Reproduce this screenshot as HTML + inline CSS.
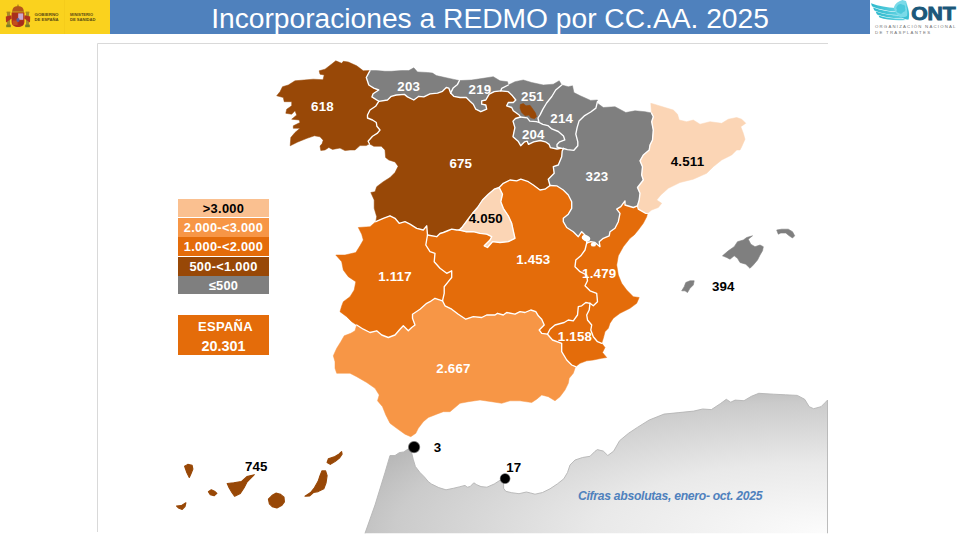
<!DOCTYPE html>
<html><head><meta charset="utf-8">
<style>
html,body{margin:0;padding:0;background:#fff;}
body{width:960px;height:540px;overflow:hidden;position:relative;font-family:"Liberation Sans",sans-serif;}
#gov{position:absolute;left:0;top:0;width:110px;height:34px;background:#FAD21E;}
#bar{position:absolute;left:110px;top:0;width:760px;height:34px;background:#4F81BD;}
#title{position:absolute;left:110px;top:0;width:760px;height:34px;line-height:37.4px;text-align:center;color:#fff;font-size:28.2px;white-space:nowrap;}
#title span{display:inline-block;transform-origin:50% 50%;}
svg{position:absolute;left:0;top:0;}
.leg{position:absolute;left:178px;width:91px;text-align:center;font-weight:bold;font-size:12.8px;color:#fff;white-space:nowrap;letter-spacing:0.3px;}
#note{position:absolute;left:578px;top:489px;font-size:12.2px;letter-spacing:-0.3px;font-style:italic;color:#4F81BD;white-space:nowrap;font-weight:bold;}
</style></head><body>
<div id="gov"></div>
<div id="bar"></div>
<div id="title"><span id="tt">Incorporaciones a REDMO por CC.AA. 2025</span></div>

<div class="leg" style="top:198.5px;height:18.5px;line-height:19px;background:#FAC090;color:#000;">&gt;3.000</div>
<div class="leg" style="top:218px;height:18.6px;line-height:19px;background:#F79646;">2.000-&lt;3.000</div>
<div class="leg" style="top:237.4px;height:18.8px;line-height:19px;background:#E46C0A;">1.000-&lt;2.000</div>
<div class="leg" style="top:256.8px;height:18.8px;line-height:19px;background:#984807;">500-&lt;1.000</div>
<div class="leg" style="top:276.1px;height:18.4px;line-height:19px;background:#7F7F7F;">&le;500</div>
<div class="leg" style="top:315px;height:39.5px;background:#E46C0A;line-height:19.6px;"><div style="padding-top:1.6px;font-size:13px;letter-spacing:0.3px"><span style="position:relative;left:2px">ESPAÑA</span><br><span style="font-size:14.4px;letter-spacing:0;position:relative;top:1px">20.301</span></div></div>

<svg width="960" height="540" viewBox="0 0 960 540">
<defs>
<radialGradient id="afg" cx="1" cy="1" r="1.2" fx="1" fy="1">
<stop offset="0" stop-color="#FCFCFC"/><stop offset="0.42" stop-color="#E9E9E9"/><stop offset="0.78" stop-color="#CBCBCB"/><stop offset="0.92" stop-color="#B6B6B6"/><stop offset="1" stop-color="#ADADAD"/>
</radialGradient>
<radialGradient id="dot"><stop offset="0.72" stop-color="#000"/><stop offset="0.82" stop-color="#222" stop-opacity="0.75"/><stop offset="1" stop-color="#555" stop-opacity="0"/></radialGradient>
</defs>
<!-- frame -->
<path d="M97.5,532 V43.5 H828" fill="none" stroke="#D9D9D9" stroke-width="1"/>
<!-- africa -->
<polygon points="365.0,533.3 375.0,505.0 385.0,472.5 390.0,455.5 395.0,455.5 399.4,452.6 403.8,451.9 408.1,449.0 411.0,449.5 411.8,453.3 413.2,459.2 415.4,466.5 419.8,472.3 424.2,476.7 428.5,481.8 431.5,484.0 438.8,487.6 446.0,489.8 453.3,488.3 459.2,486.9 465.0,485.4 467.2,487.2 470.1,486.6 473.8,482.8 476.7,484.7 481.0,486.6 486.9,487.2 494.2,484.0 500.0,480.3 503.6,481.5 503.6,488.3 505.8,491.3 511.7,492.7 519.0,493.7 526.3,492.0 530.6,493.0 535.0,494.2 542.5,492.5 550.0,488.8 557.5,483.8 563.8,478.8 567.5,472.5 570.0,465.0 575.0,460.0 582.5,457.5 590.0,456.3 595.0,451.3 597.4,449.6 603.3,451.1 607.8,455.5 613.7,451.1 619.6,440.7 628.5,433.3 637.4,427.4 649.2,420.0 664.0,414.1 678.9,412.6 693.7,411.1 702.6,409.0 711.4,409.6 720.3,403.7 726.3,399.3 730.7,402.2 735.1,400.1 744.0,400.7 751.4,396.3 758.8,393.3 773.6,394.2 785.5,394.8 797.3,395.4 804.7,399.3 809.2,406.7 813.6,408.7 821.0,406.7 825.5,402.2 827.5,400.1 827.5,533.3" fill="url(#afg)"/>
<polyline points="365.0,533.3 375.0,505.0 385.0,472.5 390.0,455.5 395.0,455.5 399.4,452.6 403.8,451.9 408.1,449.0 411.0,449.5 411.8,453.3 413.2,459.2 415.4,466.5 419.8,472.3 424.2,476.7 428.5,481.8 431.5,484.0 438.8,487.6 446.0,489.8 453.3,488.3 459.2,486.9 465.0,485.4 467.2,487.2 470.1,486.6 473.8,482.8 476.7,484.7 481.0,486.6 486.9,487.2 494.2,484.0 500.0,480.3 503.6,481.5 503.6,488.3 505.8,491.3 511.7,492.7 519.0,493.7 526.3,492.0 530.6,493.0 535.0,494.2 542.5,492.5 550.0,488.8 557.5,483.8 563.8,478.8 567.5,472.5 570.0,465.0 575.0,460.0 582.5,457.5 590.0,456.3 595.0,451.3 597.4,449.6 603.3,451.1 607.8,455.5 613.7,451.1 619.6,440.7 628.5,433.3 637.4,427.4 649.2,420.0 664.0,414.1 678.9,412.6 693.7,411.1 702.6,409.0 711.4,409.6 720.3,403.7 726.3,399.3 730.7,402.2 735.1,400.1 744.0,400.7 751.4,396.3 758.8,393.3 773.6,394.2 785.5,394.8 797.3,395.4 804.7,399.3 809.2,406.7 813.6,408.7 821.0,406.7 825.5,402.2 827.5,400.1 827.5,533.3" fill="none" stroke="#B4B4B4" stroke-width="0.9" stroke-linejoin="round"/>
<polygon points="378.8,101.3 387.5,100.0 391.3,96.3 396.3,95.0 404.4,94.4 407.5,96.9 413.8,100.0 418.8,96.3 423.8,96.9 430.0,93.8 437.5,93.1 442.5,91.3 446.3,87.5 448.8,88.1 450.6,93.1 453.8,96.3 460.0,97.5 466.3,97.5 470.0,101.3 473.3,104.2 475.8,109.2 480.8,111.7 486.7,109.2 485.8,105.0 481.7,104.2 481.7,100.8 485.8,100.0 489.2,94.2 494.2,91.7 500.8,90.8 508.3,91.7 512.5,95.8 515.8,100.0 513.3,102.5 508.3,102.5 506.7,105.8 511.7,107.5 513.3,110.8 519.2,115.0 520.5,117.0 515.5,118.5 513.0,121.1 514.9,127.6 513.0,136.7 518.1,141.2 520.7,145.7 524.6,141.8 527.2,141.2 528.5,144.4 533.7,141.8 540.2,140.5 545.4,141.8 549.2,144.4 550.5,147.7 557.0,149.0 560.9,148.3 563.5,148.5 562.2,151.0 561.7,156.7 558.3,165.0 553.3,166.7 554.2,173.3 548.3,179.2 550.0,185.5 545.0,189.2 540.0,190.0 533.3,185.0 528.3,181.7 520.8,179.2 516.7,180.8 510.0,180.0 503.3,183.3 499.2,187.5 494.2,189.2 488.3,194.2 482.5,200.0 477.5,207.5 472.5,213.3 467.5,220.0 462.5,226.7 459.2,230.0 456.7,230.0 451.7,229.2 448.3,230.5 443.3,232.5 440.0,233.5 436.7,236.7 427.5,235.0 426.7,225.8 423.3,230.0 416.7,228.3 410.0,224.2 405.0,221.7 399.2,223.3 395.0,218.3 390.0,215.8 383.3,218.3 375.8,221.7 376.7,216.7 374.2,208.3 374.2,200.0 370.8,192.5 375.0,191.7 376.7,186.7 383.3,181.7 390.0,177.5 395.0,172.5 398.1,166.3 395.0,161.9 388.8,160.0 385.6,157.5 385.0,150.0 381.3,146.3 373.8,146.3 369.4,143.8 368.1,141.3 372.5,136.3 377.5,133.1 380.0,130.0 376.9,126.3 376.3,122.5 372.5,120.0 367.5,118.0 367.5,115.0 370.0,110.0 375.6,106.3" fill="#984807" stroke="#984807" stroke-width="0.5" stroke-linejoin="round"/>
<polygon points="550.0,185.5 556.7,185.8 563.3,190.0 568.3,195.0 571.7,201.7 571.7,208.3 568.3,214.2 563.3,218.3 563.3,221.7 566.7,227.5 573.3,231.7 578.3,236.7 581.7,231.7 586.7,236.7 586.7,243.0 585.0,250.0 580.8,255.8 575.8,260.0 575.0,266.7 580.0,271.7 586.7,275.0 587.5,280.8 585.0,285.8 590.0,290.8 596.7,293.3 597.5,301.7 593.3,305.8 590.0,303.3 585.8,302.5 581.7,305.8 578.3,306.7 577.5,315.0 573.3,320.8 568.3,320.0 564.2,322.5 555.0,325.0 550.0,329.2 547.5,334.2 541.7,333.3 539.2,330.0 544.2,325.0 541.7,319.2 538.3,315.8 535.8,311.7 530.8,310.0 525.0,312.5 520.0,311.7 515.0,314.2 506.7,312.5 503.3,315.0 497.5,313.3 495.0,315.0 486.7,315.0 481.7,317.5 473.3,316.7 465.8,319.2 458.3,314.2 451.7,309.2 445.0,305.8 442.5,300.8 444.2,293.3 444.2,286.7 448.3,281.7 451.7,277.5 451.7,270.8 446.7,273.3 440.0,268.3 434.2,261.7 435.0,253.3 430.0,251.7 425.8,245.0 427.5,235.0 436.7,236.7 440.0,233.5 443.3,232.5 448.3,230.5 451.7,229.2 456.7,230.0 459.2,230.0 465.8,231.7 473.3,231.7 480.0,233.3 486.7,234.2 491.7,236.7 490.0,240.0 484.2,245.8 487.5,247.5 492.5,241.7 500.0,242.5 508.3,241.7 515.0,238.3 513.3,230.8 511.7,223.3 508.3,215.8 503.3,208.3 500.8,201.7 502.5,194.2 499.2,187.5 503.3,183.3 510.0,180.0 516.7,180.8 520.8,179.2 528.3,181.7 533.3,185.0 540.0,190.0 545.0,189.2" fill="#E46C0A" stroke="#E46C0A" stroke-width="0.5" stroke-linejoin="round"/>
<polygon points="356.7,325.0 363.3,329.2 370.0,332.5 376.7,330.8 381.7,335.0 388.3,337.5 395.0,335.0 400.0,329.2 403.3,325.8 408.3,330.8 411.7,327.5 415.0,325.0 412.5,318.3 412.5,314.2 420.0,309.2 426.7,303.3 430.0,301.7 435.0,298.3 442.5,300.8 445.0,305.8 451.7,309.2 458.3,314.2 465.8,319.2 473.3,316.7 481.7,317.5 486.7,315.0 495.0,315.0 497.5,313.3 503.3,315.0 506.7,312.5 515.0,314.2 520.0,311.7 525.0,312.5 530.8,310.0 535.8,311.7 538.3,315.8 541.7,319.2 544.2,325.0 539.2,330.0 541.7,333.3 547.5,334.2 552.5,340.0 561.7,343.3 561.7,351.7 566.7,360.0 571.7,365.0 575.5,366.7 573.3,373.3 569.2,378.3 568.3,383.3 565.0,390.0 560.0,396.7 555.0,400.8 548.3,396.7 541.7,395.0 536.7,399.2 531.7,402.5 520.0,400.8 510.0,400.8 501.7,403.3 491.7,401.7 480.0,400.0 468.3,401.7 460.0,403.3 455.0,407.5 450.0,411.7 443.3,411.7 436.7,414.2 428.3,417.5 423.3,421.7 418.3,428.3 415.8,433.3 410.8,436.7 405.0,434.2 396.7,428.3 390.0,423.3 385.8,415.0 382.5,406.7 377.5,400.8 379.2,395.0 375.0,388.3 366.7,382.5 356.7,376.7 350.0,373.3 336.7,373.3 335.0,368.3 335.0,361.7 333.3,355.8 336.7,348.3 340.8,341.7 344.2,335.8 350.8,333.3 355.0,330.8" fill="#F79646" stroke="#F79646" stroke-width="0.5" stroke-linejoin="round"/>
<polygon points="375.8,221.7 383.3,218.3 390.0,215.8 395.0,218.3 399.2,223.3 405.0,221.7 410.0,224.2 416.7,228.3 423.3,230.0 426.7,225.8 427.5,235.0 425.8,245.0 430.0,251.7 435.0,253.3 434.2,261.7 440.0,268.3 446.7,273.3 451.7,270.8 451.7,277.5 448.3,281.7 444.2,286.7 444.2,293.3 442.5,300.8 435.0,298.3 430.0,301.7 426.7,303.3 420.0,309.2 412.5,314.2 412.5,318.3 415.0,325.0 411.7,327.5 408.3,330.8 403.3,325.8 400.0,329.2 395.0,335.0 388.3,337.5 381.7,335.0 376.7,330.8 370.0,332.5 363.3,329.2 356.7,325.0 351.7,321.7 346.7,316.7 340.0,311.7 341.7,306.0 343.3,301.7 350.0,296.7 354.2,290.0 355.8,281.7 348.3,276.7 343.3,270.0 341.7,261.7 335.8,255.0 345.0,255.0 355.8,252.5 360.0,245.8 363.3,240.0 361.7,234.2 358.3,227.5 370.0,226.7" fill="#E46C0A" stroke="#E46C0A" stroke-width="0.5" stroke-linejoin="round"/>
<polygon points="370.0,70.6 363.3,70.8 356.7,65.8 348.3,62.0 343.3,61.3 341.7,63.3 335.8,60.8 333.0,63.0 325.0,69.2 319.2,70.8 320.0,74.2 324.2,75.0 323.0,79.7 313.3,79.2 295.0,80.8 288.3,85.0 282.5,86.7 280.0,91.7 276.7,95.8 283.3,97.5 284.2,101.7 291.7,101.7 291.7,105.8 286.7,109.2 285.8,113.3 291.7,114.2 295.0,110.8 296.7,115.0 291.7,119.2 299.2,120.0 300.0,122.5 293.3,125.8 293.3,128.3 300.0,128.3 295.0,132.5 290.8,137.5 290.2,145.8 297.8,142.0 307.0,138.3 314.4,135.8 320.0,136.8 323.2,140.2 322.0,143.8 320.0,146.0 320.8,150.5 325.0,150.0 328.8,147.5 332.5,149.4 340.0,148.1 345.0,150.6 350.0,150.0 355.0,150.0 360.0,145.6 366.3,145.6 369.4,143.8 368.1,141.3 372.5,136.3 377.5,133.1 380.0,130.0 376.9,126.3 376.3,122.5 372.5,120.0 367.5,118.0 367.5,115.0 370.0,110.0 375.6,106.3 378.8,101.3 371.9,96.9 373.1,93.8 378.8,90.0 373.8,88.1 368.8,85.0 366.3,77.5" fill="#984807" stroke="#984807" stroke-width="0.5" stroke-linejoin="round"/>
<polygon points="370.0,70.6 376.3,70.6 385.0,71.3 391.3,71.3 401.3,70.6 408.8,70.6 413.8,67.8 417.5,71.9 427.5,72.5 432.5,73.1 436.3,75.6 445.0,77.5 453.8,79.4 459.4,80.6 457.5,84.4 453.1,88.1 450.6,93.1 448.8,88.1 446.3,87.5 442.5,91.3 437.5,93.1 430.0,93.8 423.8,96.9 418.8,96.3 413.8,100.0 407.5,96.9 404.4,94.4 396.3,95.0 391.3,96.3 387.5,100.0 378.8,101.3 371.9,96.9 373.1,93.8 378.8,90.0 373.8,88.1 368.8,85.0 366.3,77.5" fill="#7F7F7F" stroke="#7F7F7F" stroke-width="0.5" stroke-linejoin="round"/>
<polygon points="459.4,80.6 471.7,80.0 483.3,78.3 493.3,76.7 500.0,80.8 507.5,81.7 508.3,85.0 501.7,88.3 500.8,90.8 494.2,91.7 489.2,94.2 485.8,100.0 481.7,100.8 481.7,104.2 485.8,105.0 486.7,109.2 480.8,111.7 475.8,109.2 473.3,104.2 470.0,101.3 466.3,97.5 460.0,97.5 453.8,96.3 450.6,93.1 453.1,88.1 457.5,84.4" fill="#7F7F7F" stroke="#7F7F7F" stroke-width="0.5" stroke-linejoin="round"/>
<polygon points="508.3,85.0 515.0,81.7 523.3,80.0 531.7,82.5 543.3,85.0 553.3,84.2 559.2,80.8 561.7,85.0 555.7,90.0 551.8,96.5 546.6,103.0 542.8,109.4 540.2,114.6 538.0,118.0 538.9,122.4 536.3,121.7 529.8,121.1 527.2,117.9 520.5,117.0 519.2,115.0 513.3,110.8 511.7,107.5 506.7,105.8 508.3,102.5 513.3,102.5 515.8,100.0 512.5,95.8 508.3,91.7 500.8,90.8 501.7,88.3" fill="#7F7F7F" stroke="#7F7F7F" stroke-width="0.5" stroke-linejoin="round"/>
<polygon points="561.7,85.0 568.3,86.7 572.5,85.8 573.9,92.6 580.3,95.8 590.7,100.4 597.5,100.0 597.5,101.5 595.9,108.1 590.7,112.0 584.2,115.9 579.0,121.1 577.1,127.6 575.8,134.1 577.8,141.8 577.8,145.7 573.9,150.3 567.4,149.6 563.5,148.5 560.9,148.3 557.0,147.0 557.0,144.4 559.6,141.8 564.8,139.9 563.5,136.0 558.3,131.5 551.8,128.9 547.9,125.6 542.8,124.3 538.9,122.4 538.0,118.0 540.2,114.6 542.8,109.4 546.6,103.0 551.8,96.5 555.7,90.0" fill="#7F7F7F" stroke="#7F7F7F" stroke-width="0.5" stroke-linejoin="round"/>
<polygon points="520.5,117.0 515.5,118.5 513.0,121.1 514.9,127.6 513.0,136.7 518.1,141.2 520.7,145.7 524.6,141.8 527.2,141.2 528.5,144.4 533.7,141.8 540.2,140.5 545.4,141.8 549.2,144.4 550.5,147.7 557.0,149.0 560.9,148.3 557.0,147.0 557.0,144.4 559.6,141.8 564.8,139.9 563.5,136.0 558.3,131.5 551.8,128.9 547.9,125.6 542.8,124.3 538.9,122.4 536.3,121.7 529.8,121.1 527.2,117.9" fill="#7F7F7F" stroke="#7F7F7F" stroke-width="0.5" stroke-linejoin="round"/>
<polygon points="597.5,101.5 597.5,103.3 603.3,107.5 615.0,106.7 625.8,112.5 635.0,110.8 645.0,111.7 651.5,113.0 653.3,116.7 651.7,121.7 653.3,130.0 652.5,140.0 650.0,145.0 649.2,150.0 643.3,155.0 640.0,160.8 642.5,166.7 641.7,175.0 643.3,180.0 637.5,187.5 640.0,193.3 639.2,200.0 637.5,205.8 633.3,207.5 625.0,205.0 625.0,200.8 620.8,206.7 616.7,209.2 620.0,213.3 618.3,221.7 615.0,228.3 610.0,231.7 609.2,235.8 603.3,238.3 599.2,241.7 600.0,246.7 595.0,242.5 590.8,241.7 586.7,243.0 586.7,236.7 581.7,231.7 578.3,236.7 573.3,231.7 566.7,227.5 563.3,221.7 563.3,218.3 568.3,214.2 571.7,208.3 571.7,201.7 568.3,195.0 563.3,190.0 556.7,185.8 550.0,185.5 548.3,179.2 554.2,173.3 553.3,166.7 558.3,165.0 561.7,156.7 562.2,151.0 563.5,148.5 567.4,149.6 573.9,150.3 577.8,145.7 577.8,141.8 575.8,134.1 577.1,127.6 579.0,121.1 584.2,115.9 590.7,112.0 595.9,108.1" fill="#7F7F7F" stroke="#7F7F7F" stroke-width="0.5" stroke-linejoin="round"/>
<polygon points="651.5,113.0 650.8,103.3 654.2,104.2 665.0,107.5 673.3,110.0 677.5,114.2 679.2,120.0 686.7,121.7 693.3,120.0 700.0,124.2 710.0,121.7 721.7,123.3 728.3,119.2 736.7,117.5 741.7,119.2 745.8,123.3 740.8,126.7 743.3,133.3 745.0,139.2 741.7,146.7 740.0,150.0 736.7,150.0 731.7,155.0 721.7,160.0 713.3,166.7 706.7,173.3 693.3,179.2 680.0,182.5 668.3,188.3 660.8,195.0 656.7,200.0 661.7,203.3 658.3,207.5 651.7,210.0 647.5,213.3 645.8,213.3 638.3,209.2 637.5,205.8 639.2,200.0 640.0,193.3 637.5,187.5 643.3,180.0 641.7,175.0 642.5,166.7 640.0,160.8 643.3,155.0 649.2,150.0 650.0,145.0 652.5,140.0 653.3,130.0 651.7,121.7 653.3,116.7" fill="#FBD5B5" stroke="#FBD5B5" stroke-width="0.5" stroke-linejoin="round"/>
<polygon points="637.5,205.8 638.3,209.2 645.8,213.3 647.5,213.3 646.7,216.7 643.3,223.3 638.3,230.0 634.2,235.0 630.0,238.3 623.3,246.7 618.3,255.8 616.7,265.0 618.3,275.0 621.7,283.3 626.7,290.0 633.3,296.7 639.2,297.5 636.7,303.3 630.0,308.3 620.0,313.3 613.3,318.3 610.0,323.3 608.3,328.3 605.0,331.7 603.3,338.3 601.7,343.3 597.5,341.7 593.3,336.7 590.8,330.0 591.7,325.0 587.5,320.0 586.7,315.0 589.2,310.0 590.0,303.3 593.3,305.8 597.5,301.7 596.7,293.3 590.0,290.8 585.0,285.8 587.5,280.8 586.7,275.0 580.0,271.7 575.0,266.7 575.8,260.0 580.8,255.8 585.0,250.0 586.7,243.0 590.8,241.7 595.0,242.5 600.0,246.7 599.2,241.7 603.3,238.3 609.2,235.8 610.0,231.7 615.0,228.3 618.3,221.7 620.0,213.3 616.7,209.2 620.8,206.7 625.0,200.8 625.0,205.0 633.3,207.5" fill="#E46C0A" stroke="#E46C0A" stroke-width="0.5" stroke-linejoin="round"/>
<polygon points="590.0,303.3 589.2,310.0 586.7,315.0 587.5,320.0 591.7,325.0 590.8,330.0 593.3,336.7 597.5,341.7 601.7,343.3 605.0,347.5 602.5,352.5 606.7,357.5 601.7,358.3 593.3,360.0 586.7,360.8 580.0,363.3 575.5,366.7 571.7,365.0 566.7,360.0 561.7,351.7 561.7,343.3 552.5,340.0 547.5,334.2 550.0,329.2 555.0,325.0 564.2,322.5 568.3,320.0 573.3,320.8 577.5,315.0 578.3,306.7 581.7,305.8 585.8,302.5" fill="#E46C0A" stroke="#E46C0A" stroke-width="0.5" stroke-linejoin="round"/>
<polygon points="499.2,187.5 502.5,194.2 500.8,201.7 503.3,208.3 508.3,215.8 511.7,223.3 513.3,230.8 515.0,238.3 508.3,241.7 500.0,242.5 492.5,241.7 487.5,247.5 484.2,245.8 490.0,240.0 491.7,236.7 486.7,234.2 480.0,233.3 473.3,231.7 465.8,231.7 459.2,230.0 462.5,226.7 467.5,220.0 472.5,213.3 477.5,207.5 482.5,200.0 488.3,194.2 494.2,189.2" fill="#FBD5B5" stroke="#FBD5B5" stroke-width="0.5" stroke-linejoin="round"/>
<g fill="none" stroke="#fff" stroke-width="1.35" stroke-linejoin="round" stroke-linecap="round"><polyline points="369.4,143.8 368.1,141.3 372.5,136.3 377.5,133.1 380.0,130.0 376.9,126.3 376.3,122.5 372.5,120.0 367.5,118.0 367.5,115.0 370.0,110.0 375.6,106.3 378.8,101.3"/><polyline points="378.8,101.3 371.9,96.9 373.1,93.8 378.8,90.0 373.8,88.1 368.8,85.0 366.3,77.5 370.0,70.6"/><polyline points="459.4,80.6 457.5,84.4 453.1,88.1 450.6,93.1"/><polyline points="450.6,93.1 448.8,88.1 446.3,87.5 442.5,91.3 437.5,93.1 430.0,93.8 423.8,96.9 418.8,96.3 413.8,100.0 407.5,96.9 404.4,94.4 396.3,95.0 391.3,96.3 387.5,100.0 378.8,101.3"/><polyline points="508.3,85.0 501.7,88.3 500.8,90.8"/><polyline points="500.8,90.8 494.2,91.7 489.2,94.2 485.8,100.0 481.7,100.8 481.7,104.2 485.8,105.0 486.7,109.2 480.8,111.7 475.8,109.2 473.3,104.2 470.0,101.3 466.3,97.5 460.0,97.5 453.8,96.3 450.6,93.1"/><polyline points="561.7,85.0 555.7,90.0 551.8,96.5 546.6,103.0 542.8,109.4 540.2,114.6 538.0,118.0 538.9,122.4"/><polyline points="538.9,122.4 536.3,121.7 529.8,121.1 527.2,117.9 520.5,117.0"/><polyline points="520.5,117.0 519.2,115.0 513.3,110.8 511.7,107.5 506.7,105.8 508.3,102.5 513.3,102.5 515.8,100.0 512.5,95.8 508.3,91.7 500.8,90.8"/><polyline points="520.5,117.0 515.5,118.5 513.0,121.1 514.9,127.6 513.0,136.7 518.1,141.2 520.7,145.7 524.6,141.8 527.2,141.2 528.5,144.4 533.7,141.8 540.2,140.5 545.4,141.8 549.2,144.4 550.5,147.7 557.0,149.0 560.9,148.3"/><polyline points="538.9,122.4 542.8,124.3 547.9,125.6 551.8,128.9 558.3,131.5 563.5,136.0 564.8,139.9 559.6,141.8 557.0,144.4 557.0,147.0 560.9,148.3"/><polyline points="597.5,101.5 595.9,108.1 590.7,112.0 584.2,115.9 579.0,121.1 577.1,127.6 575.8,134.1 577.8,141.8 577.8,145.7 573.9,150.3 567.4,149.6 563.5,148.5"/><polyline points="651.5,113.0 653.3,116.7 651.7,121.7 653.3,130.0 652.5,140.0 650.0,145.0 649.2,150.0 643.3,155.0 640.0,160.8 642.5,166.7 641.7,175.0 643.3,180.0 637.5,187.5 640.0,193.3 639.2,200.0 637.5,205.8"/><polyline points="637.5,205.8 633.3,207.5 625.0,205.0 625.0,200.8 620.8,206.7 616.7,209.2 620.0,213.3 618.3,221.7 615.0,228.3 610.0,231.7 609.2,235.8 603.3,238.3 599.2,241.7 600.0,246.7 595.0,242.5 590.8,241.7 586.7,243.0"/><polyline points="586.7,243.0 586.7,236.7 581.7,231.7 578.3,236.7 573.3,231.7 566.7,227.5 563.3,221.7 563.3,218.3 568.3,214.2 571.7,208.3 571.7,201.7 568.3,195.0 563.3,190.0 556.7,185.8 550.0,185.5"/><polyline points="563.5,148.5 562.2,151.0 561.7,156.7 558.3,165.0 553.3,166.7 554.2,173.3 548.3,179.2 550.0,185.5"/><polyline points="647.5,213.3 645.8,213.3 638.3,209.2 637.5,205.8"/><polyline points="601.7,343.3 597.5,341.7 593.3,336.7 590.8,330.0 591.7,325.0 587.5,320.0 586.7,315.0 589.2,310.0 590.0,303.3"/><polyline points="590.0,303.3 593.3,305.8 597.5,301.7 596.7,293.3 590.0,290.8 585.0,285.8 587.5,280.8 586.7,275.0 580.0,271.7 575.0,266.7 575.8,260.0 580.8,255.8 585.0,250.0 586.7,243.0"/><polyline points="575.5,366.7 571.7,365.0 566.7,360.0 561.7,351.7 561.7,343.3 552.5,340.0 547.5,334.2"/><polyline points="547.5,334.2 550.0,329.2 555.0,325.0 564.2,322.5 568.3,320.0 573.3,320.8 577.5,315.0 578.3,306.7 581.7,305.8 585.8,302.5 590.0,303.3"/><polyline points="356.7,325.0 363.3,329.2 370.0,332.5 376.7,330.8 381.7,335.0 388.3,337.5 395.0,335.0 400.0,329.2 403.3,325.8 408.3,330.8 411.7,327.5 415.0,325.0 412.5,318.3 412.5,314.2 420.0,309.2 426.7,303.3 430.0,301.7 435.0,298.3 442.5,300.8"/><polyline points="442.5,300.8 445.0,305.8 451.7,309.2 458.3,314.2 465.8,319.2 473.3,316.7 481.7,317.5 486.7,315.0 495.0,315.0 497.5,313.3 503.3,315.0 506.7,312.5 515.0,314.2 520.0,311.7 525.0,312.5 530.8,310.0 535.8,311.7 538.3,315.8 541.7,319.2 544.2,325.0 539.2,330.0 541.7,333.3 547.5,334.2"/><polyline points="375.8,221.7 383.3,218.3 390.0,215.8 395.0,218.3 399.2,223.3 405.0,221.7 410.0,224.2 416.7,228.3 423.3,230.0 426.7,225.8 427.5,235.0"/><polyline points="427.5,235.0 425.8,245.0 430.0,251.7 435.0,253.3 434.2,261.7 440.0,268.3 446.7,273.3 451.7,270.8 451.7,277.5 448.3,281.7 444.2,286.7 444.2,293.3 442.5,300.8"/><polyline points="550.0,185.5 545.0,189.2 540.0,190.0 533.3,185.0 528.3,181.7 520.8,179.2 516.7,180.8 510.0,180.0 503.3,183.3 499.2,187.5"/><polyline points="499.2,187.5 494.2,189.2 488.3,194.2 482.5,200.0 477.5,207.5 472.5,213.3 467.5,220.0 462.5,226.7 459.2,230.0"/><polyline points="459.2,230.0 456.7,230.0 451.7,229.2 448.3,230.5 443.3,232.5 440.0,233.5 436.7,236.7 427.5,235.0"/><polyline points="499.2,187.5 502.5,194.2 500.8,201.7 503.3,208.3 508.3,215.8 511.7,223.3 513.3,230.8 515.0,238.3 508.3,241.7 500.0,242.5 492.5,241.7 487.5,247.5 484.2,245.8 490.0,240.0 491.7,236.7 486.7,234.2 480.0,233.3 473.3,231.7 465.8,231.7 459.2,230.0"/><polyline points="560.9,148.3 563.5,148.5"/></g>
<ellipse cx="586" cy="238.2" rx="4.4" ry="3" fill="#fff" transform="rotate(25 586 238.2)"/>
<ellipse cx="593.4" cy="244.4" rx="2.6" ry="2.2" fill="#fff"/>
<polygon points="520.3,104.6 523.3,103.6 526.0,105.8 530.0,105.3 532.9,109.2 535.5,113.1 536.5,116.8 534.4,118.7 530.8,117.7 528.9,115.1 525.1,115.8 521.6,112.3 520.0,108.1" fill="#984807" stroke="#984807" stroke-width="0.6" stroke-linejoin="round"/>
<polygon points="722.5,255.8 728.3,250.8 734.2,246.7 737.5,241.7 743.3,240.0 746.7,237.5 752.5,235.8 748.3,239.2 750.8,244.2 755.0,246.7 760.0,245.0 763.3,246.7 762.5,250.8 760.0,255.0 757.5,260.0 753.3,265.0 750.0,268.3 745.8,264.2 740.0,262.5 737.5,258.3 734.2,255.8 730.0,259.2 726.7,257.5" fill="#7F7F7F" stroke="#7F7F7F" stroke-width="0.6" stroke-linejoin="round"/>
<polygon points="776.7,230.0 781.7,229.2 788.3,229.2 792.5,231.7 794.7,235.8 792.5,238.0 789.2,235.8 785.8,233.0 780.8,233.0 778.3,234.2" fill="#7F7F7F" stroke="#7F7F7F" stroke-width="0.6" stroke-linejoin="round"/>
<polygon points="681.7,290.8 684.2,286.7 685.8,282.5 690.0,280.8 694.2,280.8 693.3,285.0 690.0,288.3 687.5,292.5 685.0,290.8" fill="#7F7F7F" stroke="#7F7F7F" stroke-width="0.6" stroke-linejoin="round"/>
<polygon points="184.6,466.3 187.8,464.4 192.1,465.3 192.9,469.1 191.0,473.8 189.3,477.5 186.9,472.8" fill="#984807" stroke="#984807" stroke-width="1.1" stroke-linejoin="round"/>
<polygon points="208.4,491.6 211.3,489.7 215.0,491.6 216.9,493.4 214.1,495.7 210.3,494.8" fill="#984807" stroke="#984807" stroke-width="1.1" stroke-linejoin="round"/>
<polygon points="176.6,506.0 181.3,505.6 185.9,502.8 185.0,506.6 182.2,509.4 178.4,507.9" fill="#984807" stroke="#984807" stroke-width="1.1" stroke-linejoin="round"/>
<polygon points="227.2,483.5 233.8,482.8 241.3,481.6 246.9,476.6 254.4,474.7 250.6,478.4 246.9,482.2 244.1,487.8 240.3,493.4 234.7,496.3 231.9,492.5 229.1,487.8" fill="#984807" stroke="#984807" stroke-width="1.1" stroke-linejoin="round"/>
<polygon points="268.4,499.1 272.2,495.3 275.9,493.1 280.6,494.4 284.0,497.2 284.4,501.9 281.6,505.6 276.9,507.9 272.2,506.6 269.4,503.8" fill="#984807" stroke="#984807" stroke-width="1.1" stroke-linejoin="round"/>
<polygon points="321.9,470.9 325.6,470.9 327.1,475.6 326.0,483.1 323.8,488.8 318.1,491.6 313.4,492.5 309.7,495.9 305.0,496.3 310.6,492.5 314.4,487.8 318.1,481.3 320.0,475.6" fill="#984807" stroke="#984807" stroke-width="1.1" stroke-linejoin="round"/>
<polygon points="327.1,462.5 328.4,458.8 335.0,456.5 338.8,454.1 341.6,451.6 342.1,454.1 339.7,457.8 335.0,461.6 330.3,464.4" fill="#984807" stroke="#984807" stroke-width="1.1" stroke-linejoin="round"/>
<circle cx="414.1" cy="447.1" r="6.6" fill="url(#dot)"/>
<circle cx="505.1" cy="478.6" r="5.8" fill="url(#dot)"/>
<g font-family="Liberation Sans, sans-serif" font-weight="bold" font-size="13.3" text-anchor="middle" letter-spacing="0.2">
<text x="322.5" y="111.4" fill="#fff">618</text>
<text x="408.7" y="90.5" fill="#fff">203</text>
<text x="480.0" y="93.9" fill="#fff">219</text>
<text x="532.5" y="101.4" fill="#fff">251</text>
<text x="561.7" y="123.0" fill="#fff">214</text>
<text x="533.3" y="138.9" fill="#fff">204</text>
<text x="460.8" y="168.0" fill="#fff">675</text>
<text x="597.0" y="180.7" fill="#fff">323</text>
<text x="687.5" y="165.5" fill="#000">4.511</text>
<text x="485.8" y="223.0" fill="#000">4.050</text>
<text x="395.0" y="281.4" fill="#fff">1.117</text>
<text x="533.3" y="263.9" fill="#fff">1.453</text>
<text x="599.2" y="277.7" fill="#fff">1.479</text>
<text x="575.0" y="340.5" fill="#fff">1.158</text>
<text x="453.5" y="373.0" fill="#fff">2.667</text>
<text x="723.3" y="290.5" fill="#000">394</text>
<text x="256.3" y="471.3" fill="#000">745</text>
<text x="437.5" y="452.2" fill="#000">3</text>
<text x="513.8" y="471.7" fill="#000">17</text>
</g>
<!-- gov logo -->
<g id="escudo">
<path d="M12.2,12.3 C12.2,8 14,6.2 18,6 C22,6.2 23.8,8 23.8,12.3 Z" fill="#B4561B"/>
<rect x="17.4" y="4.6" width="1.2" height="2" fill="#A07A18"/>
<rect x="12" y="11.2" width="12" height="1.6" fill="#C28A1C"/>
<path d="M11.6,12.6 H24.4 V22 C24.4,25 21.5,27 18,27 C14.5,27 11.6,25 11.6,22 Z" fill="#B2321C"/>
<rect x="18.2" y="13.4" width="5" height="6.4" fill="#C9A9CC"/>
<rect x="12.6" y="13.4" width="4.6" height="6" fill="#A8301C"/>
<rect x="12.6" y="20.6" width="5" height="4.4" fill="#C2501C"/>
<rect x="18.6" y="20.8" width="4.6" height="4.4" fill="#A52C1C"/>
<ellipse cx="18" cy="20" rx="1.6" ry="2" fill="#5C5E9C"/>
<rect x="7" y="12.4" width="3" height="13" fill="#A78A2A"/>
<rect x="26" y="12.4" width="3" height="13" fill="#A78A2A"/>
<rect x="6.6" y="11.6" width="3.8" height="1.6" fill="#B08A1A"/>
<rect x="25.6" y="11.6" width="3.8" height="1.6" fill="#B08A1A"/>
<path d="M5.8,16.4 L11.4,15.2 L11.8,18.6 L6,22.6 Z" fill="#B3331C"/>
<path d="M30.2,16.4 L24.6,15.2 L24.2,18.6 L30,22.6 Z" fill="#B3331C"/>
<rect x="6.2" y="24.6" width="4.6" height="2.6" fill="#7B7E22"/>
<rect x="25.2" y="24.6" width="4.6" height="2.6" fill="#7B7E22"/>
</g>
<g font-family="Liberation Sans, sans-serif" font-size="3.7" fill="#5B4A12" font-weight="bold">
<text x="34.5" y="16.3" textLength="24" lengthAdjust="spacingAndGlyphs">GOBIERNO</text>
<text x="34.5" y="20.6" textLength="24" lengthAdjust="spacingAndGlyphs">DE ESPAÑA</text>
<text x="70" y="16.3" textLength="23" lengthAdjust="spacingAndGlyphs">MINISTERIO</text>
<text x="70" y="20.6" textLength="25.5" lengthAdjust="spacingAndGlyphs">DE SANIDAD</text>
</g>
<line x1="64.5" y1="0" x2="64.5" y2="34" stroke="#F2C81A" stroke-width="0.6"/>
<!-- ONT logo -->
<g id="ont">
<defs><linearGradient id="wg" x1="0" y1="0" x2="1" y2="0"><stop offset="0" stop-color="#2FB9CC"/><stop offset="1" stop-color="#63D3E3"/></linearGradient></defs>
<path d="M871,3.2 C879,6 887,7.6 896,8 L899,11.6 C889,11.4 879,9.4 872,6.2 Z" fill="url(#wg)"/>
<path d="M873,7.4 C881,10.4 889,11.8 898,12 L901,15 C891,15 881,13.4 874.4,10.4 Z" fill="url(#wg)"/>
<path d="M875.6,11.6 C883,14.2 891,15.4 900,15.6 L904,18 C893,18.4 884,17 877,14.4 Z" fill="url(#wg)"/>
<path d="M878.4,15.4 C885,17.6 893,18.6 902,18.6 L906,20 C895,20.8 886,19.8 879.6,17.6 Z" fill="url(#wg)"/>
<path d="M894,7 C895,3.6 898,1.4 902.4,0 L906,1 C907,4 908.4,8 909,12 C909.4,15 909,18 908.4,19.6 C904,19 899,17 896.6,13.4 C895,11 893.6,9 894,7 Z" fill="#7ADAE8"/>
<path d="M905.6,2.4 C907,6 908.4,10 908.8,13 C909.2,16 908.8,18 908.4,19.6 C906,19.4 903,18.4 901,17 C904,17.4 906.4,17 907.2,15.6 C907.8,12 906.8,7 905.6,2.4 Z" fill="#3BBFD2"/>
<path d="M897,6.4 C898.4,3.8 901,3.4 902.6,4.8 C904.6,4.6 905.8,6.4 905,8.2 C906,10 905,12 903,12 C902.4,14 900,14.4 898.8,13 C896.8,13 896,11 897,9.6 C896,8.6 896.2,7.2 897,6.4 Z" fill="#4CC9DB"/>
<text x="911.2" y="20" font-family="Liberation Sans, sans-serif" font-weight="bold" font-size="18" fill="#1B587A" textLength="44.6" lengthAdjust="spacingAndGlyphs" stroke="#1B587A" stroke-width="0.9">ONT</text>
<g font-family="Liberation Sans, sans-serif" font-size="4.3" fill="#707070">
<text x="875" y="28" textLength="80.5" lengthAdjust="spacing">ORGANIZACIÓN NACIONAL</text>
<text x="875" y="33.7" textLength="55" lengthAdjust="spacing">DE TRASPLANTES</text>
</g>
</g>
</svg>
<div id="note">Cifras absolutas, enero- oct. 2025</div>
</body></html>
